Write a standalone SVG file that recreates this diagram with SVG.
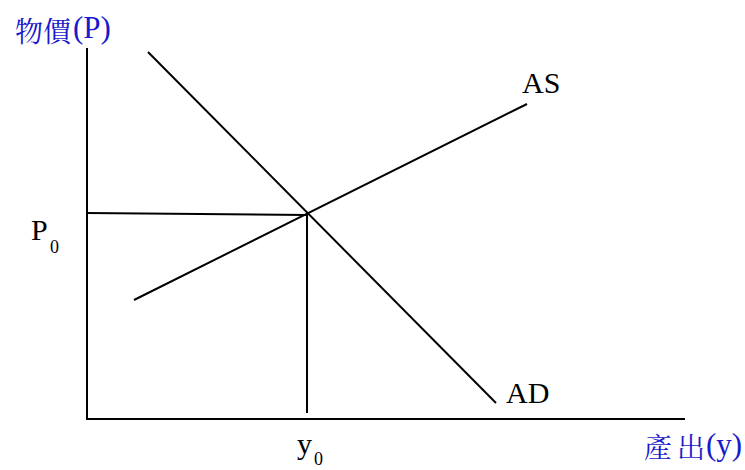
<svg xmlns="http://www.w3.org/2000/svg" width="745" height="470" viewBox="0 0 745 470">
<style>
.ln{stroke:#000;stroke-width:2;fill:none}
.t{font-family:"Liberation Serif",serif;fill:#000;font-size:30px}
.s{font-family:"Liberation Serif",serif;fill:#000;font-size:18px}
.b{font-family:"Noto Serif CJK TC","Noto Sans CJK TC",serif;fill:#1a1acc;font-size:28px}
.bl{font-family:"Liberation Serif",serif;fill:#1a1acc;font-size:31px}
</style>
<rect width="745" height="470" fill="#fff"/>
<g id="axes">
<line class="ln" x1="87" y1="48" x2="87" y2="420"/>
<line class="ln" x1="86" y1="419" x2="685" y2="419"/>
</g>
<g id="connectors">
<line class="ln" x1="148" y1="52" x2="496" y2="403"/>
<line class="ln" x1="134" y1="300" x2="527" y2="104"/>
<line class="ln" x1="87" y1="213" x2="307" y2="215"/>
<line class="ln" x1="307" y1="214" x2="307" y2="413"/>
</g>
<g id="label-price"><text class="b" x="15" y="42">物價</text><text class="bl" x="73" y="38">(P)</text></g>
<g id="label-output"><text class="b" x="644" y="458">產</text><text class="b" x="677" y="458">出</text><text class="bl" x="706" y="455" font-size="29">(y)</text></g>
<g id="label-P0"><text class="t" x="31" y="240">P</text><text class="s" x="50" y="253">0</text></g>
<g id="label-y0"><text class="t" x="297" y="454">y</text><text class="s" x="314" y="465" font-size="16">0</text></g>
<g id="label-AS"><text class="t" x="522" y="93">AS</text></g>
<g id="label-AD"><text class="t" x="506" y="403">AD</text></g>
</svg>
